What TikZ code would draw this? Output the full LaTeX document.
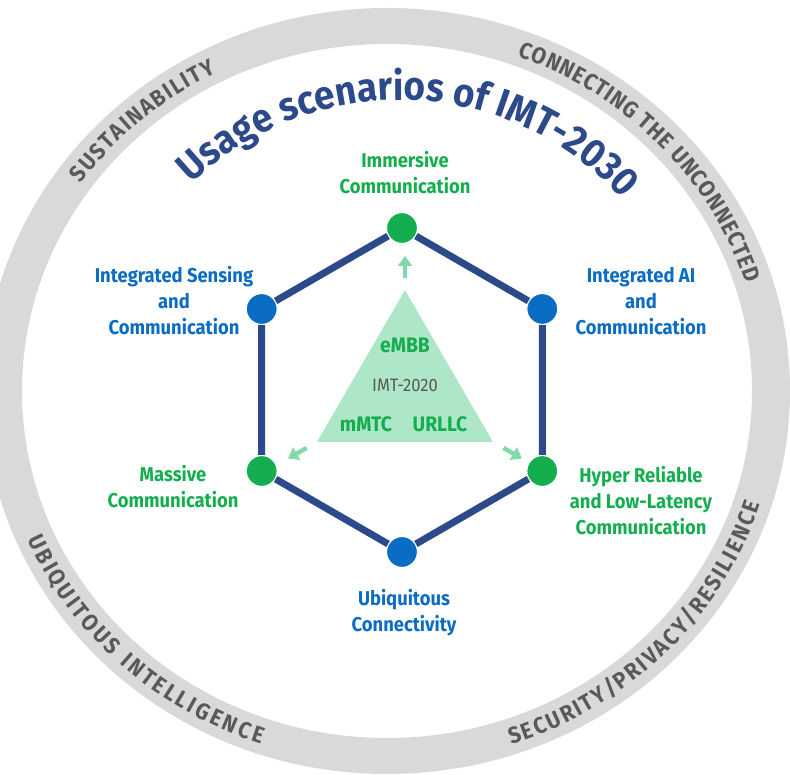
\documentclass[tikz,border=0pt]{standalone}
\usepackage{fontspec}
\setmainfont{Fira Sans}[FakeStretch=0.92]
\usetikzlibrary{arrows.meta,decorations.text}

\definecolor{hexnavy}{HTML}{2C4A8A}
\definecolor{imtgreen}{HTML}{14AE4E}
\definecolor{imtblue}{HTML}{0A6CC2}
\definecolor{trigreen}{HTML}{AEE6C8}
\definecolor{arrgreen}{HTML}{82D9AA}
\definecolor{ringgray}{HTML}{D9D9D9}
\definecolor{ringtext}{HTML}{595959}

\newcommand\ringfont{\bfseries\fontsize{23}{23}\selectfont}

\tikzset{
  dot/.style={circle, draw=white, line width=1.2pt, minimum size=31pt, inner sep=0pt},
  greendot/.style={dot, fill=imtgreen},
  bluedot/.style={dot, fill=imtblue},
  lbl/.style={align=center, font=\fontsize{20}{26}\selectfont\bfseries},
  edge/.style={hexnavy, line width=7pt},
  imtarrow/.style={arrgreen, line width=4.5pt, -{Triangle[width=14pt,length=10pt]}},
  ringlbl/.style={decorate, decoration={text along path, text align=fit to path, text color=ringtext,
      text={|\ringfont|#1}}},
}

\begin{document}
\begin{tikzpicture}[x=1pt,y=1pt]
  \clip (0,0) rectangle (790,775);
  % ring
  \coordinate (rc) at (387,384);
  \fill[ringgray, even odd rule] (rc) ellipse[x radius=403, y radius=383] (rc) ellipse[x radius=365, y radius=347];
  \path[ringlbl=SUSTAINABILITY] (rc) ++(144.5:376 and 357) arc[start angle=144.5, end angle=117, x radius=376, y radius=357];
  \path[ringlbl=CONNECTING THE UNCONNECTED] (rc) ++(69.7:376 and 357) arc[start angle=69.7, end angle=17.5, x radius=376, y radius=357];
  \path[ringlbl=UBIQUITOUS INTELLIGENCE] (rc) ++(203.4:392 and 373) arc[start angle=203.4, end angle=251.2, x radius=392, y radius=373];
  \path[ringlbl=SECURITY/PRIVACY/RESILIENCE] (rc) ++(288.5:392 and 373) arc[start angle=288.5, end angle=342.3, x radius=392, y radius=373];

  % title
  \path[decorate, decoration={text along path, text align=center, text color=hexnavy,
      text={|\fontsize{40}{40}\selectfont\bfseries|Usage scenarios of IMT-2030}}]
    (400,375) ++(140:300) arc[start angle=140, end angle=36, radius=300];

  % hexagon
  \node[greendot] (imm) at (402,547) {};
  \node[bluedot] (aic) at (542.3,466) {};
  \node[greendot] (hrllc) at (542.3,304) {};
  \node[bluedot] (ubiq) at (402,223) {};
  \node[greendot] (mass) at (261.7,304) {};
  \node[bluedot] (isac) at (261.7,466) {};
  \draw[edge] (imm) -- (aic) -- (hrllc) -- (ubiq) -- (mass) -- (isac) -- (imm);

  \node[lbl, text=imtgreen] (immtxt) at (405,602) {Immersive\\Communication};
  \node[lbl, text=imtblue] (isactxt) at (174,474) {Integrated Sensing\\and\\Communication};
  \node[lbl, text=imtblue] (aictxt) at (641,474) {Integrated AI\\and\\Communication};
  \node[lbl, text=imtgreen] (masstxt) at (173,288) {Massive\\Communication};
  \node[lbl, text=imtgreen] (hrllctxt) at (641,274) {Hyper Reliable\\and Low-Latency\\Communication};
  \node[lbl, text=imtblue] (ubiqtxt) at (404,162) {Ubiquitous\\Connectivity};

  % IMT-2020 triangle
  \coordinate (tA) at (405,485);
  \coordinate (tL) at (317,333);
  \coordinate (tR) at (493,333);
  \fill[trigreen] (tA) -- (tL) -- (tR) -- cycle;
  \node[font=\fontsize{21}{21}\selectfont\bfseries, text=imtgreen] (embb) at (405,430) {eMBB};
  \node[font=\fontsize{18}{18}\selectfont, text=ringtext] (imt) at (405,390) {IMT-2020};
  \node[font=\fontsize{21}{21}\selectfont\bfseries, text=imtgreen] (mmtc) at (366,351) {mMTC};
  \node[font=\fontsize{21}{21}\selectfont\bfseries, text=imtgreen] (urllc) at (440,351) {URLLC};

  \coordinate (upS) at (405,497);  \coordinate (upE) at (405,519);
  \coordinate (llS) at (306.6,327); \coordinate (llE) at (288,316.5);
  \coordinate (lrS) at (503.4,327); \coordinate (lrE) at (522,316.5);
  \draw[imtarrow] (upS) -- (upE);
  \draw[imtarrow] (llS) -- (llE);
  \draw[imtarrow] (lrS) -- (lrE);
\end{tikzpicture}
\end{document}
